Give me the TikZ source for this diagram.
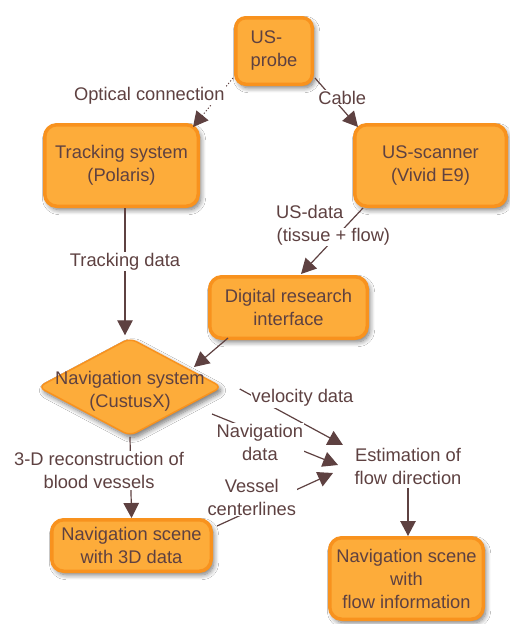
\documentclass[tikz,border=0pt]{standalone}
\usepackage{fontspec}
\setmainfont{Liberation Sans}
\usetikzlibrary{arrows.meta,shapes.geometric,shadows.blur,calc}
\definecolor{boxfill}{RGB}{253,172,58}
\definecolor{boxline}{RGB}{248,146,30}
\definecolor{ink}{RGB}{94,65,65}
\newcommand{\whitebg}[1]{{\setlength{\fboxsep}{0.5pt}\colorbox{white}{#1}}}
\begin{document}
\begin{tikzpicture}[x=1pt,y=-1pt,
  every node/.style={font=\fontsize{18.3}{23}\selectfont, text=ink},
  shd/.style={blur shadow={shadow xshift=2.5pt, shadow yshift=-3.5pt, shadow blur steps=8, shadow blur radius=5pt, shadow opacity=55}},
  box/.style={draw=boxline, fill=boxfill, line width=3.5pt, rounded corners=12pt, align=center, inner sep=0pt, shd},
  dia/.style={diamond, draw=boxline, fill=boxfill, line width=1.5pt, rounded corners=7pt, inner sep=0pt, shd},
  conn/.style={draw=ink, line width=1.2pt, -{Triangle[length=15pt,width=15.5pt]}},
  lab/.style={fill=white, inner sep=1pt, align=center},
]
\useasboundingbox[fill=white] (0,0) rectangle (509,624);

\node[box, rounded corners=10pt, minimum width=76.5pt, minimum height=66.5pt, align=left] (probe) at (274,51) {US-\\probe};
\node[box, minimum width=153.5pt, minimum height=81.5pt] (track) at (121.5,165.5) {Tracking system\\(Polaris)};
\node[box, minimum width=151.5pt, minimum height=81.5pt] (scanner) at (430.5,165.5) {US-scanner\\(Vivid E9)};
\node[box, minimum width=157.5pt, minimum height=61.5pt] (dri) at (288.5,307.5) {Digital research\\interface};
\node[dia, minimum width=184pt, minimum height=98pt] (nav) at (130,387) {};
\node[align=center] (navtxt) at (130,391) {Navigation system\\(CustusX)};
\node[align=center] (est) at (408,466) {Estimation of\\flow direction};
\node[box, minimum width=159.5pt, minimum height=51.5pt] (nav3d) at (131.5,545.5) {Navigation scene\\with 3D data};
\node[box, minimum width=153.5pt, minimum height=81.5pt] (navflow) at (406.5,578.5) {Navigation scene\\with\\flow information};

\draw[conn, dotted, line width=1pt] ([shift={(-1,-8)}]probe.south west) -- ([shift={(-7,4)}]track.north east)
  node[lab, pos=0.36, anchor=east, xshift=7.5pt] {Optical connection};
\draw[conn] ([shift={(1,-8)}]probe.south east) -- ([shift={(5,4)}]scanner.north west)
  node[lab, pos=0.4, xshift=10pt] {Cable};
\draw[conn] ([shift={(10,0)}]scanner.south west) -- ([shift={(12.5,-1)}]dri.north)
  node[pos=0.3, xshift=-11pt, yshift=2pt, align=left, inner sep=0pt] {US-data\\\whitebg{(tissue + flow)}};
\draw[conn] ([xshift=3.5pt]track.south) -- ([xshift=-5pt,yshift=2pt]nav.north)
  node[lab, pos=0.42] {Tracking data};
\draw[conn] ([shift={(20,-2)}]dri.south west) -- ([shift={(64,-20)}]nav.center);
\draw[conn] ([shift={(17,2)}]nav.east) -- ([shift={(-65,-21)}]est.center)
  node[lab, pos=0.1, anchor=west, yshift=-3.5pt] {velocity data};
\draw[conn] ([shift={(82,27)}]nav.center) -- ([shift={(-70,-1)}]est.center)
  node[lab, pos=0.38, yshift=-8.6pt] {Navigation\\data};
\draw[conn] (nav.south) -- (nav3d.north)
  node[lab, pos=0.414, xshift=-31.6pt] {3-D reconstruction of\\blood vessels};
\draw[conn] ([shift={(4,8)}]nav3d.north east) -- ([shift={(-75,7)}]est.center)
  node[lab, pos=0.3, yshift=13pt] {Vessel\\centerlines};
\draw[conn] (est.south) -- (est.south |- navflow.north);
\end{tikzpicture}
\end{document}
